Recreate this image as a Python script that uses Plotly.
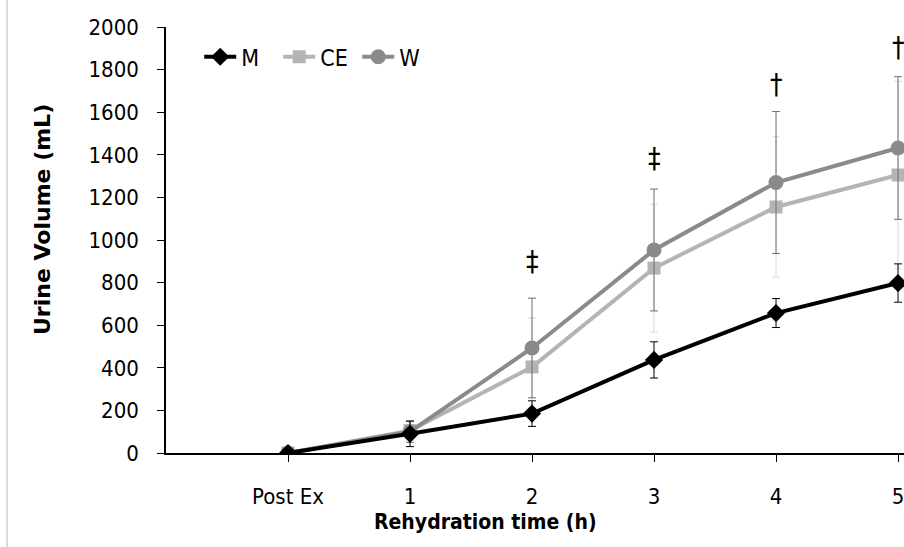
import plotly.graph_objects as go

# Time points after exercise (x positions 0..5)
time_pos = [0, 1, 2, 3, 4, 5]
time_labels = ["Post Ex", "1", "2", "3", "4", "5"]

# Cumulative urine volume (mL), mean and SD per drink
m_mean = [0, 90, 185, 437, 657, 798]
m_sd = [0, 60, 60, 85, 68, 90]
ce_mean = [0, 105, 404, 868, 1155, 1305]
ce_sd = [0, 40, 230, 300, 330, 440]
w_mean = [0, 100, 493, 953, 1270, 1432]
w_sd = [0, 50, 234, 286, 333, 335]

# Significance markers above each time point
sig_pos = [2, 3, 4, 5]
sig_text = ["‡", "‡", "†", "†"]
sig_y = [900, 1385, 1730, 1905]

FONT = "DejaVu Sans Condensed, Open Sans, sans-serif"

fig = go.Figure()

fig.add_trace(go.Scatter(
    x=time_pos, y=ce_mean, name="CE", mode="lines+markers", legendrank=2,
    line=dict(color="#b4b4b4", width=4),
    marker=dict(symbol="square", size=13, color="#b4b4b4"),
    error_y=dict(type="data", array=ce_sd, color="#dadada", thickness=1, width=4),
))
fig.add_trace(go.Scatter(
    x=time_pos, y=w_mean, name="W", mode="lines+markers", legendrank=3,
    line=dict(color="#8a8a8a", width=4),
    marker=dict(symbol="circle", size=15, color="#8a8a8a"),
    error_y=dict(type="data", array=w_sd, color="#6e6e6e", thickness=1, width=4),
))
fig.add_trace(go.Scatter(
    x=time_pos, y=m_mean, name="M", mode="lines+markers", legendrank=1,
    line=dict(color="#000000", width=4),
    marker=dict(symbol="diamond", size=14, color="#000000"),
    error_y=dict(type="data", array=m_sd, color="#000000", thickness=1, width=4),
))

for xp, t, yp in zip(sig_pos, sig_text, sig_y):
    fig.add_annotation(x=xp, y=yp, xref="x", yref="y", text=t, showarrow=False,
                       font=dict(family=FONT, size=28, color="#000000"))

fig.add_annotation(x=(485 - 166) / 738, y=(453 - 522) / 426, xref="paper", yref="paper",
                   xanchor="center", yanchor="middle",
                   text="<b>Rehydration time (h)</b>", showarrow=False,
                   font=dict(family=FONT, size=21, color="#000000"))
fig.add_annotation(x=(42 - 166) / 738, y=(453 - 220) / 426, xref="paper", yref="paper",
                   xanchor="center", yanchor="middle",
                   text="<b>Urine Volume (mL)</b>", textangle=-90, showarrow=False,
                   font=dict(family="DejaVu Sans", size=22, color="#000000"))

# thin frame line on the left edge
fig.add_shape(type="line", xref="paper", yref="paper",
              x0=(7 - 166) / 738, x1=(7 - 166) / 738, y0=-94 / 426, y1=453 / 426,
              line=dict(color="#cfcfcf", width=1.5))

fig.update_layout(
    width=904, height=547,
    margin=dict(l=166, r=0, t=27, b=94),
    paper_bgcolor="white", plot_bgcolor="white",
    font=dict(family=FONT, size=22, color="#000000"),
    showlegend=True,
    legend=dict(orientation="h", x=0.045, y=0.93, xanchor="left", yanchor="middle",
                bgcolor="rgba(0,0,0,0)", font=dict(family=FONT, size=23),
                itemwidth=32, entrywidth=32, tracegroupgap=0),
)
fig.update_xaxes(
    range=[-1, 5.049], tickmode="array", tickvals=time_pos, ticktext=time_labels,
    showgrid=False, zeroline=False, showline=True, linecolor="#000000", linewidth=1.5,
    ticks="outside", ticklen=7, tickcolor="#000000", tickwidth=1.2,
    ticklabelstandoff=16, ticklabeloverflow="allow", tickfont=dict(family=FONT, size=22),
)
fig.update_yaxes(
    range=[0, 2000], tickmode="linear", tick0=0, dtick=200,
    showgrid=False, zeroline=False, showline=True, linecolor="#000000", linewidth=1.5,
    ticks="outside", ticklen=7, tickcolor="#000000", tickwidth=1.2,
    ticklabelstandoff=14, tickfont=dict(family=FONT, size=22),
)

fig.write_html("out.html")
